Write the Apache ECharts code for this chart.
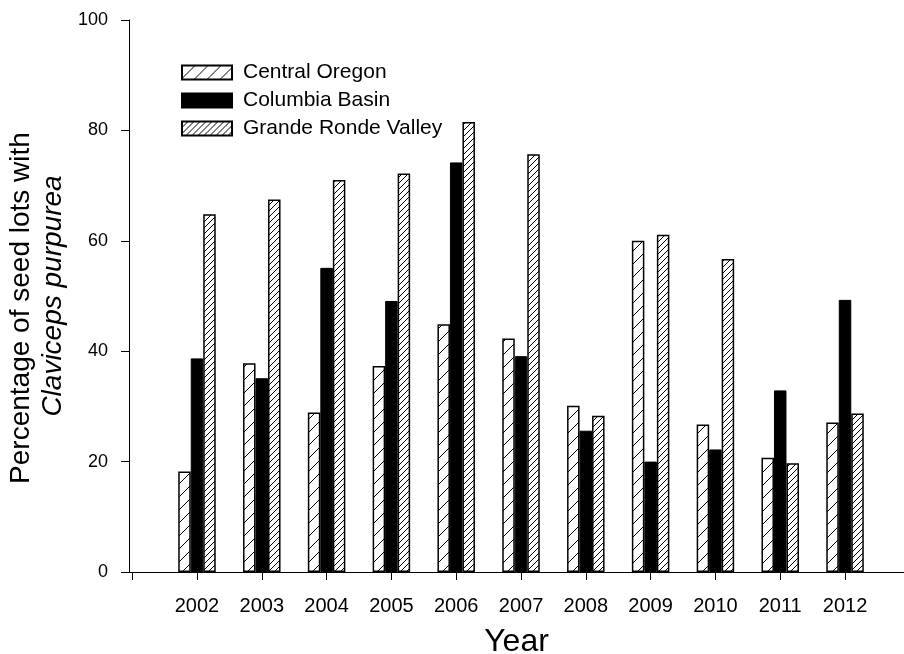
<!DOCTYPE html>
<html>
<head>
<meta charset="utf-8">
<script src="https://cdn.jsdelivr.net/npm/echarts@6/dist/echarts.min.js"></script>
<style>
  html, body { margin: 0; padding: 0; background: #fff; }
  #chart { width: 904px; height: 654px; }
</style>
</head>
<body>
<div id="chart"></div>
<script>
// Percentage of seed lots with ergot, by region and year
const years = [2002, 2003, 2004, 2005, 2006, 2007, 2008, 2009, 2010, 2011, 2012];
const tickYears = [2001, 2002, 2003, 2004, 2005, 2006, 2007, 2008, 2009, 2010, 2011, 2012];
const centralOregon = [18.2, 37.8, 28.9, 37.3, 44.9, 42.3, 30.1, 60.0, 26.7, 20.7, 27.1];
const columbiaBasin = [38.7, 35.1, 55.1, 49.1, 74.2, 39.1, 25.6, 20.0, 22.2, 32.9, 49.3];
const grandeRonde = [64.8, 67.5, 71.0, 72.2, 81.5, 75.7, 28.3, 61.1, 56.7, 19.7, 28.7];
const seriesNames = ['Central Oregon', 'Columbia Basin', 'Grande Ronde Valley'];

const FONT = 'Liberation Sans, Arial, sans-serif';

// Diagonal "/" hatch tile used as a repeating fill
function hatch(p) {
  const c = document.createElement('canvas');
  c.width = p; c.height = p;
  const g = c.getContext('2d');
  g.fillStyle = '#fff';
  g.fillRect(0, 0, p, p);
  g.strokeStyle = '#000';
  g.lineWidth = 1;
  g.beginPath();
  g.moveTo(-1, p + 1); g.lineTo(p + 1, -1);
  g.moveTo(-1, 1); g.lineTo(1, -1);
  g.moveTo(p - 1, p + 1); g.lineTo(p + 1, p - 1);
  g.stroke();
  return { image: c, repeat: 'repeat' };
}

const pair = arr => years.map((y, i) => [y, arr[i]]);

const chart = echarts.init(document.getElementById('chart'), null, { renderer: 'canvas' });

const barCommon = {
  type: 'bar',
  barWidth: 12.5,
  barGap: '0%',
  animation: false
};

chart.setOption({
  animation: false,
  backgroundColor: '#fff',
  grid: { left: 129, right: 0, top: 20, bottom: 82, containLabel: false, outerBoundsMode: 'none' },
  legend: {
    left: 181,
    top: 62,
    padding: 0,
    orient: 'vertical',
    icon: 'rect',
    itemWidth: 50,
    itemHeight: 14,
    itemGap: 7,
    data: seriesNames,
    textStyle: { fontFamily: FONT, fontSize: 21, color: '#000', padding: [0, 0, 0, 6] },
    selectedMode: false
  },
  xAxis: {
    type: 'value',
    min: 2000.951,
    max: 2012.91,
    name: 'Year',
    nameLocation: 'middle',
    nameGap: 54,
    nameTextStyle: { fontFamily: FONT, fontSize: 32, color: '#000' },
    axisLine: { show: true, onZero: false, lineStyle: { color: '#000', width: 1 } },
    axisTick: { show: true, length: 8, customValues: tickYears, lineStyle: { color: '#000', width: 1 } },
    axisLabel: {
      customValues: years,
      formatter: v => String(v),
      margin: 24,
      fontFamily: FONT,
      fontSize: 20,
      color: '#000'
    },
    splitLine: { show: false }
  },
  yAxis: {
    type: 'value',
    min: 0,
    max: 100,
    interval: 20,
    name: '{a|Percentage of seed lots with}\n{b|Claviceps purpurea}',
    nameLocation: 'middle',
    nameGap: 59,
    nameTextStyle: {
      fontFamily: FONT,
      fontSize: 28,
      color: '#000',
      align: 'center',
      rich: {
        a: { fontFamily: FONT, fontSize: 28, color: '#000', lineHeight: 32, padding: [0, 24, 0, 0] },
        b: { fontFamily: FONT, fontSize: 28, color: '#000', fontStyle: 'italic', lineHeight: 32 }
      }
    },
    axisLine: { show: true, lineStyle: { color: '#000', width: 1 } },
    axisTick: { show: true, length: 8, lineStyle: { color: '#000', width: 1 } },
    axisLabel: { margin: 21, fontFamily: FONT, fontSize: 18, color: '#000' },
    splitLine: { show: false }
  },
  series: [
    Object.assign({}, barCommon, {
      name: seriesNames[0],
      data: pair(centralOregon),
      itemStyle: { color: hatch(13), borderColor: '#000', borderWidth: 1.5 }
    }),
    Object.assign({}, barCommon, {
      name: seriesNames[1],
      data: pair(columbiaBasin),
      itemStyle: { color: '#000', borderColor: '#000', borderWidth: 1 }
    }),
    Object.assign({}, barCommon, {
      name: seriesNames[2],
      data: pair(grandeRonde),
      itemStyle: { color: hatch(6), borderColor: '#000', borderWidth: 1.5 }
    })
  ]
});
</script>
</body>
</html>
